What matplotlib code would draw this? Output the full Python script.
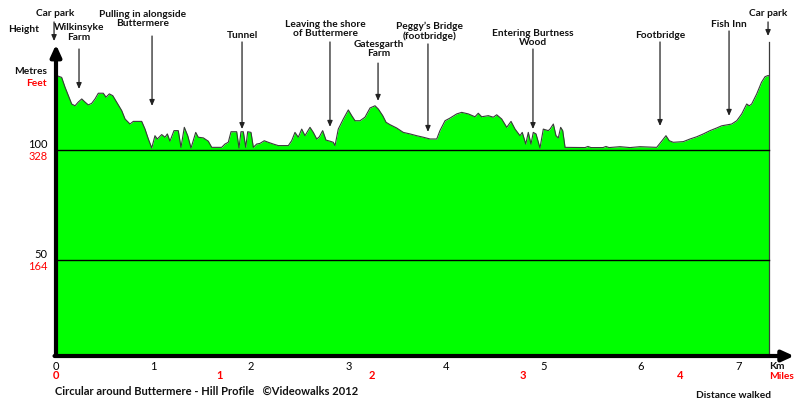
import matplotlib
matplotlib.use("Agg")
import matplotlib.pyplot as plt

# --- data: distance (km) and height (metres) ---
dist_km = [0.0, 0.007, 0.058, 0.092, 0.161, 0.195, 0.229, 0.264, 0.297, 0.331, 0.366,
           0.400, 0.434, 0.485, 0.513, 0.547, 0.582, 0.623, 0.674, 0.708, 0.759,
           0.793, 0.879, 0.913, 0.947, 0.982, 1.015, 1.039, 1.084, 1.118, 1.142,
           1.169, 1.210, 1.254, 1.282, 1.316, 1.351, 1.385, 1.433, 1.459, 1.511,
           1.562, 1.597, 1.699, 1.733, 1.767, 1.795, 1.853, 1.877, 1.897, 1.921,
           1.946, 1.966, 2.000, 2.024, 2.058, 2.092, 2.136, 2.177, 2.229, 2.280,
           2.383, 2.417, 2.451, 2.485, 2.520, 2.554, 2.605, 2.639, 2.674, 2.701,
           2.735, 2.769, 2.810, 2.844, 2.862, 2.895, 2.947, 2.998, 3.033, 3.067,
           3.118, 3.169, 3.221, 3.272, 3.306, 3.351, 3.385, 3.426, 3.494, 3.562,
           3.631, 3.699, 3.767, 3.836, 3.905, 3.938, 3.990, 4.041, 4.110, 4.161,
           4.229, 4.297, 4.331, 4.366, 4.434, 4.485, 4.520, 4.571, 4.623, 4.667,
           4.708, 4.759, 4.782, 4.818, 4.844, 4.872, 4.895, 4.923, 4.964, 4.998,
           5.049, 5.067, 5.101, 5.128, 5.152, 5.176, 5.197, 5.221, 5.426, 5.456,
           5.487, 5.610, 5.641, 5.672, 5.785, 5.887, 5.990, 6.161, 6.212, 6.256,
           6.290, 6.331, 6.434, 6.503, 6.571, 6.639, 6.708, 6.776, 6.828, 6.930,
           6.982, 7.033, 7.084, 7.110, 7.135, 7.187, 7.236, 7.272, 7.299, 7.310]
height_m = [133.8, 133.8, 133.0, 128.6, 120.9, 120.1, 121.8, 123.2, 121.8, 120.5, 121.2,
            123.2, 125.8, 125.8, 124.0, 125.5, 124.7, 121.7, 117.9, 114.1, 111.8,
            113.0, 113.0, 109.5, 105.0, 100.9, 106.5, 105.0, 107.0, 105.8, 107.3,
            104.0, 108.8, 108.8, 101.2, 110.3, 106.5, 100.9, 108.0, 105.8, 105.5,
            104.0, 101.2, 101.2, 102.7, 103.5, 108.3, 108.3, 100.9, 108.3, 108.3,
            101.2, 108.3, 108.0, 101.2, 102.7, 103.0, 104.2, 103.5, 102.7, 102.0,
            102.0, 104.2, 108.0, 105.8, 109.5, 106.5, 110.3, 108.0, 105.0, 106.0,
            108.8, 104.5, 104.0, 103.5, 102.0, 109.5, 114.1, 118.2, 115.6, 113.3,
            113.3, 114.9, 119.1, 120.1, 118.6, 115.6, 112.6, 111.5, 110.0, 108.0,
            107.3, 106.5, 105.8, 105.0, 105.0, 108.8, 113.3, 114.5, 116.4, 117.1,
            116.4, 115.1, 116.7, 115.1, 115.6, 114.9, 116.0, 114.1, 110.3, 113.0,
            109.5, 106.5, 108.0, 102.7, 108.0, 102.7, 108.0, 107.3, 100.9, 109.5,
            108.8, 109.5, 111.8, 106.5, 105.5, 110.3, 108.8, 101.2, 101.1, 101.6,
            101.1, 101.1, 101.6, 101.1, 101.5, 101.1, 101.5, 101.2, 104.0, 106.5,
            104.2, 103.5, 103.8, 105.0, 106.0, 107.3, 108.8, 110.0, 111.0, 111.8,
            113.3, 116.4, 120.9, 120.1, 120.9, 125.5, 130.8, 133.3, 133.8, 133.8]

grid_m = [100, 50]
grid_ft = [328, 164]
km_ticks = [0, 1, 2, 3, 4, 5, 6, 7]
mile_labels = [0, 1, 2, 3, 4]
mile_pos_km = [0.0, 1.68, 3.24, 4.79, 6.40]

landmarks = ["Car park", "Wilkinsyke\nFarm", "Pulling in alongside\nButtermere", "Tunnel",
             "Leaving the shore\nof Buttermere", "Gatesgarth\nFarm", "Peggy\u2019s Bridge\n(footbridge)",
             "Entering Burtness\nWood", "Footbridge", "Fish Inn", "Car park"]
landmark_km = [-0.02, 0.236, 0.985, 1.908, 2.81, 3.303, 3.815, 4.892, 6.195, 6.903, 7.303]

# --- layout for the landmark labels (text x, text y, arrow top, arrow tip), in km / metres ---
label_x = [-0.013, 0.236, 0.892, 1.908, 2.764, 3.308, 3.831, 4.892, 6.195, 6.897, 7.308]
label_y = [162.7, 153.9, 160.0, 152.3, 155.5, 146.4, 154.2, 151.4, 152.3, 157.7, 162.7]
arrow_top = [158.2, 145.9, 151.8, 149.1, 149.1, 139.5, 148.2, 145.9, 149.1, 154.1, 158.2]
arrow_tip = [149.5, 127.7, 120.0, 109.5, 110.5, 122.3, 108.2, 109.5, 110.9, 115.5, 151.8]

FONT = ["Lato", "DejaVu Sans"]
GREEN = "#00FF00"
RED = "#FF0000"
y_bottom, y_top = 6.36, 150.45

fig = plt.figure(figsize=(8, 4.06), dpi=100)
ax = fig.add_axes([56 / 800, 49 / 406, 741 / 800, 317 / 406])
ax.set_xlim(0, 7.6)
ax.set_ylim(y_bottom, y_top)
ax.axis("off")

# profile
ax.fill_between(dist_km, height_m, y_bottom, color=GREEN, lw=0, zorder=1)
ax.plot(dist_km, height_m, color="#3a3a3a", lw=0.8, zorder=2)
ax.plot([dist_km[-1], dist_km[-1]], [y_bottom, 149.1], color="#3a3a3a", lw=0.9, zorder=2)

# height lines
for m in grid_m:
    ax.plot([0, dist_km[-1]], [m, m], color="black", lw=1.0, zorder=3)

# axes with arrows
ax.annotate("", xy=(0, 147.9), xytext=(0, y_bottom), annotation_clip=False,
            arrowprops=dict(arrowstyle="-|>,head_width=0.32,head_length=0.7",
                            color="black", lw=3, shrinkA=0, shrinkB=0), zorder=5)
ax.annotate("", xy=(7.57, y_bottom), xytext=(-0.015, y_bottom), annotation_clip=False,
            arrowprops=dict(arrowstyle="-|>,head_width=0.32,head_length=0.7",
                            color="black", lw=3, shrinkA=0, shrinkB=0), zorder=5)

# landmarks
for name, kx, tx, ty, top, tip in zip(landmarks, landmark_km, label_x, label_y, arrow_top, arrow_tip):
    ax.text(tx, ty, name, ha="center", va="center", fontsize=7.3, fontweight="bold",
            family=FONT, color="#111111", linespacing=1.05, clip_on=False)
    ax.annotate("", xy=(kx, tip), xytext=(kx, top), annotation_clip=False,
                arrowprops=dict(arrowstyle="-|>,head_width=0.15,head_length=0.35",
                                color="#222222", lw=0.9, shrinkA=0, shrinkB=0))

# height labels
for m, ft in zip(grid_m, grid_ft):
    ax.annotate(str(m), xy=(0, m), xytext=(-6, 5), textcoords="offset points",
                ha="right", va="center", fontsize=8, family=FONT, color="black")
    ax.annotate(str(ft), xy=(0, m), xytext=(-6, -3.8), textcoords="offset points",
                ha="right", va="center", fontsize=8, family=FONT, color=RED)

# distance labels
for k in km_ticks:
    ax.annotate(str(k), xy=(k, y_bottom), xytext=(0, -6.5), textcoords="offset points",
                ha="center", va="center", fontsize=8, family=FONT, color="black")
for lab, k in zip(mile_labels, mile_pos_km):
    ax.annotate(str(lab), xy=(k, y_bottom), xytext=(0, -13.5), textcoords="offset points",
                ha="center", va="center", fontsize=8, fontweight="bold", family=FONT, color=RED)


def ftext(xp, yp, s, **kw):
    fig.text(xp / 800, 1 - yp / 406, s, family=FONT, va="center", **kw)


ftext(8, 30, "Height", ha="left", fontsize=7.3, fontweight="bold", color="#111111")
ftext(47, 72, "Metres", ha="right", fontsize=7.3, fontweight="bold", color="#111111")
ftext(47, 84, "Feet", ha="right", fontsize=7.3, fontweight="bold", color=RED)
ftext(769, 367, "Km", ha="left", fontsize=7.3, fontweight="bold", color="#111111")
ftext(769, 377, "Miles", ha="left", fontsize=7.3, fontweight="bold", color=RED)
ftext(55, 391, "Circular around Buttermere - Hill Profile   \u00a9Videowalks 2012",
      ha="left", fontsize=8, fontweight="bold", color="#111111")
ftext(733, 396, "Distance walked", ha="center", fontsize=7.3, fontweight="bold", color="#111111")

fig.savefig("out.png", dpi=100, facecolor="white")
